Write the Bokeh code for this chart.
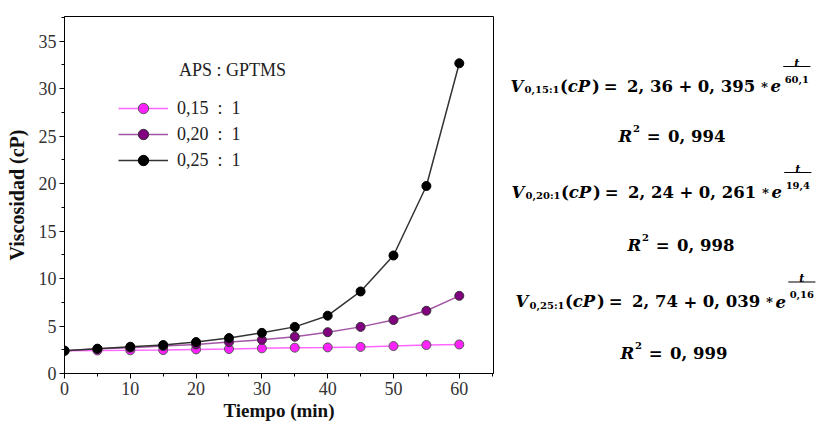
from bokeh.plotting import figure
from bokeh.models import Range1d, SingleIntervalTicker, Legend, LegendItem, Label
from bokeh.layouts import row
from bokeh.core.properties import value
from bokeh.embed import file_html
from bokeh.resources import INLINE

# ---------------- data ----------------
tiempo = [0, 5, 10, 15, 20, 25, 30, 35, 40, 45, 50, 55, 60]
visc_015 = [2.40, 2.42, 2.44, 2.47, 2.54, 2.58, 2.65, 2.72, 2.75, 2.80, 2.89, 3.00, 3.06]
visc_020 = [2.40, 2.60, 2.72, 2.89, 3.06, 3.31, 3.55, 3.87, 4.35, 4.91, 5.64, 6.61, 8.18]
visc_025 = [2.40, 2.61, 2.82, 3.00, 3.31, 3.73, 4.28, 4.91, 6.09, 8.64, 12.43, 19.75, 32.67]
series_labels = ["0,15  :  1", "0,20  :  1", "0,25  :  1"]
legend_title = "APS : GPTMS"

eq_subs = ["0,15:1", "0,20:1", "0,25:1"]
eq_consts = ["2, 36", "2, 24", "2, 74"]
eq_amps = ["0, 395", "0, 261", "0, 039"]
eq_taus = ["60,1", "19,4", "0,16"]
eq_r2 = ["0, 994", "0, 998", "0, 999"]

SERIF = "Liberation Serif"
TOTAL_W, TOTAL_H = 821, 423
P_W = 497
B_TOP, B_BOT = 16, 50
FRAME_TOP, FRAME_BOT = B_TOP, TOTAL_H - B_BOT

# ---------------- main chart ----------------
p = figure(width=P_W, height=TOTAL_H, x_range=Range1d(0, 65.2), y_range=Range1d(0, 37.6),
           output_backend="svg", toolbar_location=None,
           min_border_left=64, min_border_right=4, min_border_top=B_TOP, min_border_bottom=B_BOT)
p.grid.visible = False
p.outline_line_color = "black"
p.outline_line_width = 1
p.background_fill_color = "white"
p.border_fill_color = "white"

p.xaxis.ticker = SingleIntervalTicker(interval=10, num_minor_ticks=2)
p.yaxis.ticker = SingleIntervalTicker(interval=5, num_minor_ticks=2)
for ax in p.axis:
    ax.major_tick_in = 0
    ax.major_tick_out = 5
    ax.minor_tick_in = 0
    ax.minor_tick_out = 3
    ax.axis_line_color = "black"
    ax.major_tick_line_color = "black"
    ax.minor_tick_line_color = "black"
    ax.major_label_text_font = SERIF
    ax.major_label_text_font_size = "18px"
    ax.major_label_text_color = "#333333"
    ax.major_label_standoff = 3
    ax.axis_label_text_font = SERIF
    ax.axis_label_text_font_style = "bold"
    ax.axis_label_text_color = "#111111"
p.xaxis.axis_label = "Tiempo (min)"
p.xaxis.axis_label_text_font_size = "19px"
p.xaxis.axis_label_standoff = 2
p.yaxis.axis_label = "Viscosidad (cP)"
p.yaxis.axis_label_text_font_size = "20px"
p.yaxis.axis_label_standoff = 8

styles = [
    (visc_015, "#FF66FF", "#FF22FF", "#555555"),
    (visc_020, "#A555A5", "#800080", "#333333"),
    (visc_025, "#333333", "#000000", "#000000"),
]
items = []
for lab, (vals, lc, fc, oc) in zip(series_labels, styles):
    rl = p.line(tiempo, vals, line_color=lc, line_width=1.5)
    rs = p.scatter(tiempo, vals, size=9, fill_color=fc, line_color=oc, line_width=1)
    items.append(LegendItem(label=lab, renderers=[rl, rs]))

legend = Legend(items=items, location=(54, 200), padding=0, margin=0,
                border_line_color=None, background_fill_alpha=0,
                glyph_width=50, glyph_height=26, label_height=26, spacing=0,
                label_standoff=9, label_text_font=SERIF, label_text_font_size="18px",
                label_text_color="#222222")
p.add_layout(legend)

p.add_layout(Label(x=17.4, y=32.0, text=legend_title, text_font=SERIF,
                   text_font_size="18px", text_baseline="middle", text_color="#222222"))

# ---------------- equations panel ----------------
q = figure(width=TOTAL_W - P_W, height=TOTAL_H, x_range=Range1d(P_W, TOTAL_W),
           y_range=Range1d(FRAME_BOT, FRAME_TOP),
           output_backend="svg", toolbar_location=None,
           min_border_left=0, min_border_right=0, min_border_top=B_TOP, min_border_bottom=B_BOT,
           x_axis_location=None, y_axis_location=None)
q.grid.visible = False
q.outline_line_color = None

EF = value("DejaVu Serif")
S = 16.5 / 17.0
BIG = "16.5px"
SUB = "10px"


def txt(x, y, s, size, style, align="left"):
    q.text(x=[x], y=[y], text=[s], text_font=EF, text_font_size=value(size),
           text_font_style=style, text_baseline="alphabetic", text_align=align,
           text_color="black")


eq_x = [510, 511, 515]
eq_y = [85.5, 191.5, 301]
r_x = [618, 627, 620]
r_y = [136, 245, 353]

for i in range(3):
    x0, b = eq_x[i], eq_y[i]
    txt(x0, b, "V", BIG, "bold italic")
    txt(x0 + 14.5 * S, b + 3.5, eq_subs[i], SUB, "bold")
    txt(x0 + 51 * S, b, "(", BIG, "bold")
    txt(x0 + 59 * S, b, "cP", BIG, "bold italic")
    txt(x0 + 84 * S, b, ")", BIG, "bold")
    txt(x0 + 96 * S, b, "=", BIG, "bold")
    txt(x0 + 120 * S, b, eq_consts[i], BIG, "bold")
    txt(x0 + 173 * S, b, "+", BIG, "bold")
    txt(x0 + 193 * S, b, eq_amps[i], BIG, "bold")
    txt(x0 + 257 * S, b - 2, "\u2217", "13px", "bold")
    txt(x0 + 268 * S, b, "e", BIG, "bold italic")
    fx0, fx1 = x0 + 281 * S, x0 + 309 * S
    txt((fx0 + fx1) / 2, b - 23, "t", "11px", "bold italic", "center")
    q.segment(x0=[fx0], y0=[b - 19.5], x1=[fx1], y1=[b - 19.5], line_color="black", line_width=1.2)
    txt((fx0 + fx1) / 2, b - 7, eq_taus[i], SUB, "bold", "center")

    rx, rb = r_x[i], r_y[i]
    txt(rx, rb, "R", BIG, "bold italic")
    txt(rx + 15 * S, rb - 8, "2", SUB, "bold")
    txt(rx + 29 * S, rb, "=", BIG, "bold")
    txt(rx + 51 * S, rb, eq_r2[i], BIG, "bold")

layout = row(p, q)
open("out.html", "w").write(file_html(layout, INLINE))
